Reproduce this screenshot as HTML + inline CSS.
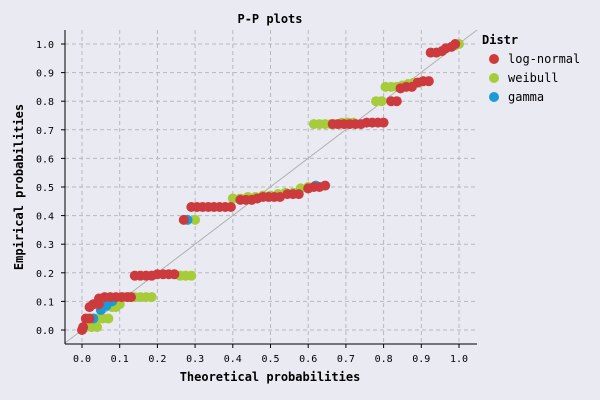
<!DOCTYPE html>
<html><head><meta charset="utf-8"><style>
body{margin:0;background:#eaeaf2;}
svg{display:block;font-family:"DejaVu Sans Mono","Liberation Mono",monospace;}
</style></head><body>
<svg id="c" width="600" height="400">
<rect width="600" height="400" fill="#eaeaf2"/>
<g id="grid"></g>
<line x1="65" y1="343" x2="477" y2="30" stroke="#b0b0b0" stroke-width="1"/>
<g id="pts"></g>
<line x1="65" y1="30" x2="65" y2="344" stroke="#000" stroke-width="1"/>
<line x1="65" y1="344" x2="477" y2="344" stroke="#000" stroke-width="1"/>
<g id="ticks" font-size="10"></g>
<text x="270" y="23" text-anchor="middle" font-size="12" font-weight="bold">P-P plots</text>
<text x="270" y="381" text-anchor="middle" font-size="12" font-weight="bold">Theoretical probabilities</text>
<text x="23" y="187" text-anchor="middle" font-size="12" font-weight="bold" transform="rotate(-90 23 187)">Empirical probabilities</text>
<g font-size="12">
<text x="482" y="44" font-weight="bold">Distr</text>
<g><circle cx="494" cy="59" r="5" fill="#d03a3a"/><text x="508" y="63">log-normal</text></g>
<g><circle cx="494" cy="78" r="5" fill="#a6cc3a"/><text x="508" y="82">weibull</text></g>
<g><circle cx="494" cy="97" r="5" fill="#1b9ad6"/><text x="508" y="101">gamma</text></g>
</g>
</svg>
<script>
const ticks=[0,0.1,0.2,0.3,0.4,0.5,0.6,0.7,0.8,0.9,1.0];
const lnX=[0,0.003,0.01,0.02,0.02,0.03,0.045,0.045,0.06,0.075,0.09,0.105,0.12,0.13,0.14,0.155,0.17,0.185,0.2,0.215,0.23,0.245,0.27,0.29,0.305,0.32,0.335,0.35,0.365,0.38,0.395,0.42,0.435,0.45,0.465,0.48,0.495,0.51,0.525,0.545,0.56,0.575,0.6,0.615,0.63,0.645,0.665,0.68,0.695,0.71,0.725,0.74,0.755,0.77,0.785,0.8,0.82,0.835,0.845,0.86,0.875,0.89,0.905,0.92,0.925,0.94,0.955,0.965,0.98,0.99];
const lnY=[0,0.01,0.04,0.04,0.08,0.09,0.09,0.11,0.115,0.115,0.115,0.115,0.115,0.115,0.19,0.19,0.19,0.19,0.195,0.195,0.195,0.195,0.385,0.43,0.43,0.43,0.43,0.43,0.43,0.43,0.43,0.455,0.455,0.455,0.46,0.465,0.465,0.465,0.465,0.475,0.475,0.475,0.495,0.5,0.5,0.505,0.72,0.72,0.72,0.72,0.72,0.72,0.725,0.725,0.725,0.725,0.8,0.8,0.845,0.85,0.85,0.865,0.87,0.87,0.97,0.97,0.975,0.985,0.99,1.0];
const wbX=[0.01,0.025,0.04,0.04,0.055,0.07,0.08,0.09,0.1,0.11,0.125,0.14,0.155,0.17,0.185,0.26,0.275,0.29,0.3,0.4,0.42,0.44,0.46,0.48,0.5,0.52,0.54,0.56,0.58,0.6,0.615,0.63,0.645,0.66,0.675,0.69,0.705,0.72,0.78,0.795,0.805,0.82,0.835,0.85,0.865,0.88,0.895,0.925,0.94,0.955,0.99,1.0];
const wbY=[0.01,0.01,0.01,0.04,0.04,0.04,0.08,0.08,0.09,0.115,0.115,0.115,0.115,0.115,0.115,0.19,0.19,0.19,0.385,0.46,0.46,0.465,0.465,0.47,0.47,0.475,0.48,0.48,0.495,0.5,0.72,0.72,0.72,0.72,0.72,0.725,0.725,0.725,0.8,0.8,0.85,0.85,0.85,0.855,0.86,0.865,0.865,0.97,0.97,0.975,0.995,1.0];
const gmX=[0.03,0.05,0.065,0.08,0.28,0.62];
const gmY=[0.04,0.07,0.085,0.1,0.385,0.505];
const sx=v=>82+v*377, sy=v=>330-v*286;
const NS='http://www.w3.org/2000/svg';
const grid=document.getElementById('grid'),tk=document.getElementById('ticks'),pts=document.getElementById('pts');
function mk(t,a,p){const e=document.createElementNS(NS,t);for(const k in a)e.setAttribute(k,a[k]);p.appendChild(e);return e;}
ticks.forEach(t=>{
 let g=mk('line',{x1:sx(t),x2:sx(t),y1:30,y2:344,stroke:'#b8b8c0','stroke-dasharray':'4,3'},grid);
 
 
 g=mk('line',{x1:65,x2:477,y1:sy(t),y2:sy(t),stroke:'#b8b8c0','stroke-dasharray':'4,3'},grid);
 
 
 mk('line',{x1:sx(t),x2:sx(t),y1:344,y2:348,stroke:'#000'},tk);
 mk('line',{x1:61,x2:65,y1:sy(t),y2:sy(t),stroke:'#000'},tk);
 let a=mk('text',{x:sx(t),y:362,'text-anchor':'middle'},tk);a.textContent=t.toFixed(1);
 
 
 let b=mk('text',{x:54,y:sy(t)+4,'text-anchor':'end'},tk);b.textContent=t.toFixed(1);
 
 
});
function series(X,Y,col,name){X.forEach((x,i)=>{const c=mk('circle',{cx:sx(x),cy:sy(Y[i]),r:5,fill:col},pts);
 
 });}
series(wbX,wbY,'#a6cc3a','weibull-point');
series(gmX,gmY,'#1b9ad6','gamma-point');
series(lnX,lnY,'#cc3a3e','log-normal-point');
</script>
</body></html>
